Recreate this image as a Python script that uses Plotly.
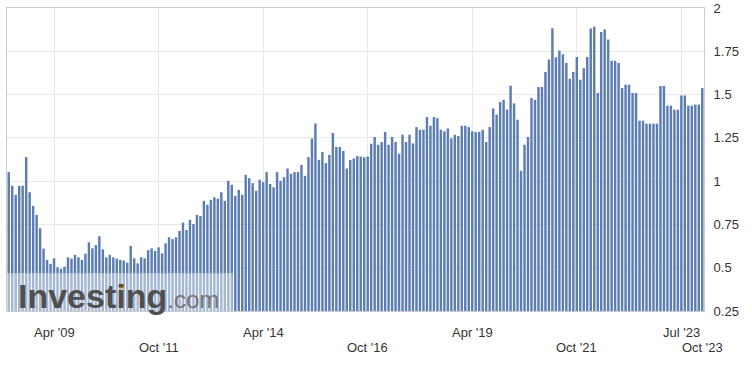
import plotly.graph_objects as go

# Bar values, left to right
values_2008_2010 = [1.052, 0.973, 0.921, 0.973, 0.973, 1.139, 0.936, 0.857, 0.805, 0.728,
                    0.610, 0.545, 0.522, 0.554, 0.502, 0.494, 0.506, 0.560, 0.552, 0.574,
                    0.560, 0.545, 0.581, 0.647, 0.612, 0.631, 0.682, 0.606, 0.560, 0.574,
                    0.560, 0.552, 0.545, 0.541]
values_2010_2013 = [0.529, 0.626, 0.554, 0.525, 0.560, 0.554, 0.602, 0.612, 0.597, 0.618,
                    0.583, 0.641, 0.676, 0.665, 0.676, 0.712, 0.760, 0.718, 0.776, 0.753,
                    0.805, 0.799, 0.886, 0.863, 0.892, 0.907, 0.899, 0.936, 0.886, 1.002,
                    0.979, 0.915]
values_2013_2016 = [0.950, 0.921, 1.036, 1.017, 0.988, 0.944, 1.008, 0.994, 1.052, 0.984,
                    0.965, 1.052, 1.002, 1.023, 1.073, 1.042, 1.052, 1.052, 1.094, 1.031,
                    1.139, 1.247, 1.333, 1.123, 1.168, 1.104, 1.152, 1.278, 1.197, 1.197,
                    1.175, 1.073, 1.123, 1.131, 1.145]
values_2016_2019 = [1.142, 1.138, 1.142, 1.216, 1.255, 1.210, 1.226, 1.284, 1.210, 1.255,
                    1.226, 1.158, 1.268, 1.226, 1.268, 1.218, 1.312, 1.297, 1.297, 1.370,
                    1.320, 1.370, 1.364, 1.297, 1.288, 1.304, 1.247, 1.268, 1.260, 1.320,
                    1.320, 1.312, 1.288, 1.284, 1.284]
values_2019_2021 = [1.297, 1.226, 1.312, 1.420, 1.384, 1.457, 1.470, 1.413, 1.551, 1.449,
                    1.355, 1.060, 1.210, 1.255, 1.480, 1.470, 1.544, 1.544, 1.631, 1.702,
                    1.883, 1.715, 1.754, 1.733, 1.683, 1.592, 1.631, 1.717, 1.586, 1.652,
                    1.717, 1.881, 1.891, 1.509]
values_2022_2023 = [1.862, 1.876, 1.818, 1.696, 1.696, 1.683, 1.538, 1.557, 1.557, 1.509,
                    1.509, 1.349, 1.349, 1.332, 1.332, 1.332, 1.332, 1.550, 1.550, 1.436,
                    1.436, 1.413, 1.413, 1.494, 1.494, 1.436, 1.436, 1.442, 1.442, 1.538]

values = (values_2008_2010 + values_2010_2013 + values_2013_2016 +
          values_2016_2019 + values_2019_2021 + values_2022_2023)
bar_index = list(range(len(values)))

# x-axis labels: bar index where each date label sits, its text and its row
x_tick_index = [13, 43, 73, 103, 133, 163, 193, 199]
x_tick_text = ["Apr '09", "Oct '11", "Apr '14", "Oct '16", "Apr '19", "Oct '21", "Jul '23", "Oct '23"]
x_tick_row = [1, 2, 1, 2, 1, 2, 1, 2]
x_grid_index = x_tick_index[:-1]

y_tick_vals = [0.25, 0.5, 0.75, 1, 1.25, 1.5, 1.75, 2]
y_tick_text = ["0.25", "0.5", "0.75", "1", "1.25", "1.5", "1.75", "2"]

FONT = "Liberation Sans, Arial, sans-serif"

fig = go.Figure()
fig.add_trace(go.Bar(
    x=bar_index, y=values,
    marker=dict(color="#5b7db1", line=dict(width=0)),
    hoverinfo="y",
))

annotations = []
for idx, txt, row in zip(x_tick_index, x_tick_text, x_tick_row):
    annotations.append(dict(
        x=idx, xref="x", y=0, yref="paper", text=txt, showarrow=False,
        xanchor="center", yanchor="middle", yshift=-21 if row == 1 else -36,
        font=dict(family=FONT, size=13, color="#333333"),
    ))

# Investing.com watermark
annotations.append(dict(
    x=0.0135, xref="paper", y=0.05, yref="paper", xanchor="left", yanchor="middle",
    showarrow=False,
    text="<b>Investing</b><span style='font-size:24px;color:#757575'>.com</span>",
    font=dict(family=FONT, size=34, color="#4f4f4f"),
))

fig.update_layout(
    width=752, height=369,
    margin=dict(l=7, r=48, t=8, b=58, autoexpand=False),
    paper_bgcolor="white", plot_bgcolor="white",
    bargap=0.3,
    showlegend=False,
    annotations=annotations,
    shapes=[
        dict(type="rect", xref="paper", yref="paper", x0=0, x1=0.324, y0=0, y1=0.125,
             fillcolor="rgba(255,255,255,0.45)", line=dict(width=0), layer="above"),
        dict(type="circle", xref="paper", yref="paper",
             xsizemode="pixel", ysizemode="pixel", xanchor=0.1642, yanchor=0.082,
             x0=-2.6, x1=2.6, y0=-2.6, y1=2.6,
             fillcolor="#f5a623", line=dict(width=0), layer="above"),
    ],
    xaxis=dict(
        range=[-0.5, len(values) - 0.5], automargin=False,
        tickvals=x_grid_index, showticklabels=False, ticks="",
        showgrid=True, gridcolor="#e9e9e9", gridwidth=1,
        showline=True, mirror=True, linecolor="#cccccc", linewidth=1,
        zeroline=False,
    ),
    yaxis=dict(
        side="right", range=[0.25, 2], automargin=False,
        tickvals=y_tick_vals, ticktext=y_tick_text, ticks="",
        ticklabelstandoff=6,
        tickfont=dict(family=FONT, size=13, color="#333333"),
        showgrid=True, gridcolor="#e9e9e9", gridwidth=1,
        showline=True, mirror=True, linecolor="#cccccc", linewidth=1,
        zeroline=False,
    ),
)

fig.write_html("out.html", config={"displayModeBar": False},
               post_script="document.body.style.margin='0';")
